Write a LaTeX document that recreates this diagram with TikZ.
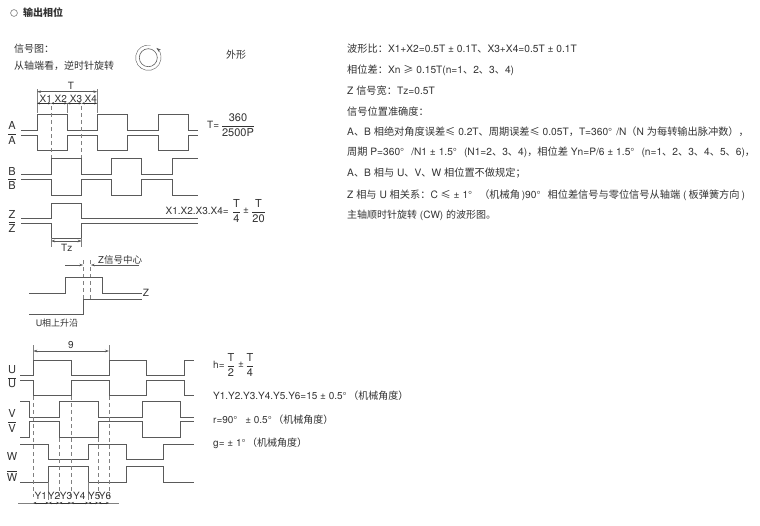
\documentclass[tikz,border=0pt]{standalone}
\usepackage{fontspec}
\setmainfont{TeX Gyre Heros}
\newfontfamily\cjk{Noto Sans CJK SC}
\newcommand{\zh}[1]{{\cjk #1}}
\newcommand{\fr}[2]{$\displaystyle\frac{\hbox{#1}}{\hbox{#2}}$}
\newcommand{\ob}[1]{$\overline{\hbox{#1}}$}
\definecolor{ink}{HTML}{333333}
\definecolor{wire}{HTML}{5A5A5A}
\definecolor{dashc}{HTML}{808080}
\usetikzlibrary{arrows.meta}
\tikzset{
  txt/.style={anchor=west,inner sep=0pt,text=ink,font=\fontsize{10}{12}\selectfont},
  rtxt/.style={txt,font=\fontsize{10.2}{12}\selectfont},
  ctxt/.style={anchor=center,inner sep=0pt,text=ink,font=\fontsize{10}{12}\selectfont},
  sig/.style={ctxt,font=\fontsize{11}{12}\selectfont},
  frc/.style={ctxt,font=\fontsize{11}{12}\selectfont},
  wv/.style={draw=wire,line width=1pt,line join=miter},
  dsh/.style={draw=dashc,line width=0.6pt,dash pattern=on 4pt off 3pt},
  tick/.style={draw=dashc,line width=0.55pt},
  dim/.style={draw=wire,line width=0.55pt,{Stealth[length=4pt,width=2.5pt]}-{Stealth[length=4pt,width=2.5pt]}},
  sdim/.style={draw=ink,line width=0.55pt,{Stealth[length=3pt,width=2.2pt]}-{Stealth[length=3pt,width=2.2pt]}},
  rgt/.style={draw=wire,line width=0.55pt,-{Stealth[length=4pt,width=2.5pt]}}
}
\begin{document}
\begin{tikzpicture}[x=1pt,y=-1pt]
\useasboundingbox (0,0) rectangle (760,525);
% header
\draw[wire,line width=0.5pt] (14,13) circle (3.4);
\node[txt] (title) at (23,13) {\zh{\textbf{输出相位}}};
\node[txt] (t1) at (14,49) {\zh{信号图：}};
\node[txt] (t2) at (14,65.5) {\zh{从轴端看，逆时针旋转}};
\draw[wire,line width=0.6pt] (148.3,57.7) circle (9);
\draw[wire,line width=0.4pt,-{Stealth[length=4.5pt,width=3pt]}] (150.5,45.2) arc[start angle=-80,end angle=-410,radius=12.7];
\node[txt] (t3) at (226,54.5) {\zh{外形}};
% A/B/Z waves
\draw[wv] (21,130.7)-|(37,114.7)-|(67.3,130.7)-|(97.3,114.7)-|(127.7,130.7)-|(158,114.7)-|(188,130.7)--(197.7,130.7);
\draw[wv] (21,135)-|(37,150.3)-|(67.3,135)-|(97.3,150.3)-|(127.7,135)-|(158,150.3)-|(188,135)--(197.7,135);
\draw[wv] (21,174.3)-|(51,158.7)-|(81.7,174.3)-|(111.7,158.7)-|(141.7,174.3)-|(172.3,158.7)--(197.7,158.7);
\draw[wv] (21,179.7)-|(51,195)-|(81.7,179.7)-|(111.7,195)-|(141.7,179.7)-|(172.3,195)--(197.7,195);
\draw[wv] (21,218)-|(51,203.7)-|(81.7,218)--(197.7,218);
\draw[wv] (21,223.3)-|(51,238.3)-|(81.7,223.3)--(197.7,223.3);
\node[sig] (la) at (12,125) {A};
\node[sig] (lab) at (12,139) {\ob{A}};
\node[sig] (lb) at (12,171) {B};
\node[sig] (lbb) at (12,184) {\ob{B}};
\node[sig] (lz) at (12,214) {Z};
\node[sig] (lzb) at (12,227) {\ob{Z}};
% T dims
\node[ctxt] (tt) at (71,85.5) {T};
\draw[tick] (37,89)--(37,113) (97.3,89)--(97.3,113) (67.3,103)--(67.3,113);
\draw[dim] (37,91.7)--(97.3,91.7);
\draw[sdim] (37,103.3)--(51,103.3);
\draw[sdim] (51,103.3)--(67.3,103.3);
\draw[sdim] (67.3,103.3)--(81.7,103.3);
\draw[sdim] (81.7,103.3)--(97.3,103.3);
\node[ctxt] (x1) at (45.7,98.5) {X1};
\node[ctxt] (x2) at (60.7,98.5) {X2};
\node[ctxt] (x3) at (76,98.5) {X3};
\node[ctxt] (x4) at (90.7,98.5) {X4};
\draw[dsh] (51,106)--(51,158) (81.7,106)--(81.7,158);
% Tz
\draw[tick] (51,238)--(51,247) (81.7,238)--(81.7,247);
\draw[dim] (51,241)--(81.7,241);
\node[ctxt] (tz) at (66.7,247.5) {Tz};
% formulas
\node[txt] (t4) at (207,125) {T=};
\node[frc] (f1) at (238,125) {\fr{360}{2500P}};
\node[txt] (t5) at (165.5,211) {X1.X2.X3.X4=};
\node[frc] (f2) at (236.5,211) {\fr{T}{4}};
\node[ctxt] (f3) at (246,211) {±};
\node[frc] (f4) at (258.5,211) {\fr{T}{20}};
% Z centre
\draw[rgt] (65,265)--(83.3,265);
\draw[rgt] (139.3,265)--(90.7,265);
\node[anchor=west,inner sep=0pt,text=ink,font=\fontsize{9.5}{12}\selectfont] (zc) at (98,260) {Z\zh{信号中心}};
\draw[dsh] (83.3,260)--(83.3,299) (90.7,260)--(90.7,299);
\draw[wv] (29.3,293.3)-|(65,277.7)-|(102.7,293.3)--(141.7,293.3);
\draw[wv] (29.3,314.7)-|(83.3,299.3)--(141.7,299.3);
\node[ctxt] (zl) at (146,293) {Z};
\node[ctxt,font=\fontsize{9}{12}\selectfont] (ul) at (57,323) {U\zh{相上升沿}};
% UVW waves
\draw[wv] (20,375.7)-|(33.3,360.3)-|(71,375.7)-|(109,360.3)-|(146.7,375.7)-|(184.3,360.3)--(194,360.3);
\draw[wv] (20,380)-|(33.3,395.7)-|(71,380)-|(109,395.7)-|(146.7,380)-|(184.3,395.7)--(194,395.7);
\draw[wv] (20,401.7)-|(29.3,417.3)-|(59.3,401.7)-|(98.3,417.3)-|(142.7,401.7)-|(180.7,417.3)--(194,417.3);
\draw[wv] (20,437.3)-|(29.3,421.7)-|(59.3,437.3)-|(98.3,421.7)-|(142.7,437.3)-|(180.7,421.7)--(194,421.7);
\draw[wv] (20,444.3)-|(48.7,459.3)-|(88.3,444.3)-|(126,459.3)-|(163.7,444.3)--(194,444.3);
\draw[wv] (20,482)-|(48.7,466.7)-|(88.3,482)-|(126,466.7)-|(163.7,482)--(194,482);
\node[sig] (lu) at (12,370) {U};
\node[sig] (lub) at (12,383) {\ob{U}};
\node[sig] (lv) at (12,413) {V};
\node[sig] (lvb) at (12,427) {\ob{V}};
\node[sig] (lw) at (12,456) {W};
\node[sig] (lwb) at (12,476) {\ob{W}};
\draw[tick] (33.3,345)--(33.3,360) (109,345)--(109,360);
\draw[dim] (33.3,351)--(109,351);
\node[ctxt] (nine) at (71,345) {9};
\draw[dsh] (33.3,396)--(33.3,497) (71,396)--(71,497) (109,396)--(109,497);
\draw[dsh] (59.3,438)--(59.3,497) (98.3,438)--(98.3,497);
\draw[tick] (48.7,482)--(48.7,500) (88.3,482)--(88.3,500);
\draw[tick] (18.3,503)--(119.3,503);
\draw[sdim] (33.3,503)--(48.7,503);
\draw[sdim] (48.7,503)--(59.3,503);
\draw[sdim] (59.3,503)--(71,503);
\draw[sdim] (71,503)--(88.3,503);
\draw[sdim] (88.3,503)--(98.3,503);
\draw[sdim] (98.3,503)--(109,503);
\node[ctxt] (y1) at (40.7,495.5) {Y1};
\node[ctxt] (y2) at (54,495.5) {Y2};
\node[ctxt] (y3) at (66,495.5) {Y3};
\node[ctxt] (y4) at (79.3,495.5) {Y4};
\node[ctxt] (y5) at (94.3,495.5) {Y5};
\node[ctxt] (y6) at (105,495.5) {Y6};
% UVW formulas
\node[txt] (h1) at (213,365) {h=};
\node[frc] (h2) at (231,365) {\fr{T}{2}};
\node[ctxt] (h3) at (241,365) {±};
\node[frc] (h4) at (250,365) {\fr{T}{4}};
\node[txt] (g1) at (213,395.5) {Y1.Y2.Y3.Y4.Y5.Y6=15 ± 0.5°\,\zh{（机械角度）}};
\node[txt] (g2) at (213,420) {r=90°\,\,\, ± 0.5°\,\zh{（机械角度）}};
\node[txt] (g3) at (213,443) {g= ± 1°\,\zh{（机械角度）}};
% right column
\node[rtxt] (r1) at (347,49) {\zh{波形比：}X1+X2=0.5T ± 0.1T\zh{、}X3+X4=0.5T ± 0.1T};
\node[rtxt] (r2) at (347,70) {\zh{相位差：}Xn \zh{≥} 0.15T(n=1\zh{、}2\zh{、}3\zh{、}4)};
\node[rtxt] (r3) at (347,90.7) {Z \zh{信号宽：}Tz=0.5T};
\node[rtxt] (r4) at (347,111.7) {\zh{信号位置准确度：}};
\node[rtxt] (r5) at (347,131.7) {A\zh{、}B \zh{相绝对角度误差≤} 0.2T\zh{、周期误差≤} 0.05T\zh{，}T=360°\hspace{4pt}/N\zh{（}N \zh{为每转输出脉冲数），}};
\node[rtxt] (r6) at (347,152.7) {\zh{周期} P=360°\hspace{7pt}/N1 ± 1.5°\hspace{7pt}(N1=2\zh{、}3\zh{、}4)\zh{，相位差} Yn=P/6 ± 1.5°\hspace{7pt}(n=1\zh{、}2\zh{、}3\zh{、}4\zh{、}5\zh{、}6)\zh{，}};
\node[rtxt] (r7) at (347,173.3) {A\zh{、}B \zh{相与} U\zh{、}V\zh{、}W \zh{相位置不做规定；}};
\node[rtxt] (r8) at (347,195) {Z \zh{相与} U \zh{相关系：}C \zh{≤} ± 1°\hspace{7pt}\zh{（机械角}\,)90°\hspace{7pt}\zh{相位差信号与零位信号从轴端}\hspace{3pt}(\hspace{2pt}\zh{板弹簧方向}\hspace{2pt})};
\node[txt] (r9) at (347,215.7) {\zh{主轴顺时针旋转} (CW) \zh{的波形图。}};
\end{tikzpicture}
\end{document}
